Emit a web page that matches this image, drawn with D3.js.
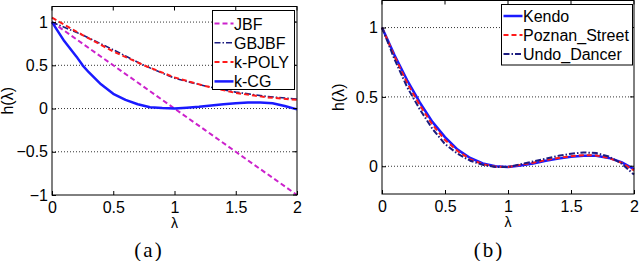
<!DOCTYPE html>
<html><head><meta charset="utf-8">
<script src="https://cdn.jsdelivr.net/npm/d3@7"></script>
<style>body{margin:0;background:#fff}svg{display:block}</style>
</head><body>
<script>
// ---- data ----
const xTicks = [0, 0.5, 1, 1.5, 2];
const yTicksA = [-1, -0.5, 0, 0.5, 1];
const yTicksB = [0, 0.5, 1];
const lamA = [0, 0.25, 0.5, 0.75, 1, 1.25, 1.5, 1.75, 2];
const jbf = [1, 0.75, 0.5, 0.25, 0, -0.25, -0.5, -0.75, -1];
const gbjbf = [1.0, 0.85, 0.68, 0.5, 0.35, 0.26, 0.19, 0.14, 0.11];
const kpoly = [1.05, 0.85, 0.66, 0.5, 0.36, 0.26, 0.18, 0.13, 0.1];
const lamC = [0, 0.1, 0.2, 0.25, 0.3, 0.4, 0.5, 0.6, 0.7, 0.8, 0.9, 1, 1.1, 1.2, 1.3, 1.4, 1.5, 1.6, 1.7, 1.8, 1.9, 2];
const kcg = [1, 0.78, 0.6, 0.5, 0.42, 0.28, 0.17, 0.1, 0.05, 0.015, 0.005, 0, 0.01, 0.02, 0.035, 0.05, 0.06, 0.07, 0.07, 0.06, 0.03, -0.01];
const lamB = [0, 0.1, 0.2, 0.3, 0.4, 0.5, 0.6, 0.7, 0.8, 0.9, 1, 1.1, 1.2, 1.3, 1.4, 1.5, 1.6, 1.7, 1.8, 1.9, 2];
const kendo = [1, 0.8, 0.62, 0.46, 0.32, 0.21, 0.12, 0.06, 0.02, 0.0, -0.005, 0.005, 0.02, 0.04, 0.055, 0.068, 0.075, 0.075, 0.06, 0.03, -0.02];
const poznan = [1, 0.79, 0.6, 0.44, 0.3, 0.19, 0.11, 0.05, 0.015, -0.003, -0.005, 0.01, 0.025, 0.045, 0.06, 0.072, 0.08, 0.078, 0.06, 0.025, -0.03];
const undo = [1, 0.77, 0.57, 0.41, 0.27, 0.16, 0.09, 0.04, 0.01, -0.005, -0.005, 0.015, 0.035, 0.055, 0.075, 0.09, 0.1, 0.095, 0.07, 0.02, -0.06];
const legendA = ["JBF", "GBJBF", "k-POLY", "k-CG"];
const legendB = ["Kendo", "Poznan_Street", "Undo_Dancer"];

const W = 640, H = 261;
const svg = d3.select("body").append("svg").attr("width", W).attr("height", H);
const FONT = "'Liberation Sans', Arial, Helvetica, sans-serif";

const styles = {
  jbf: {c: "#cc22cc", w: 2, d: "5,3"},
  gbjbf: {c: "#1c1c80", w: 1.6, d: "6,2,1.5,2"},
  kpoly: {c: "#ff1a1a", w: 2, d: "5,3"},
  kcg: {c: "#1a1aff", w: 2.5, d: null},
  kendo: {c: "#1a1aff", w: 2.5, d: null},
  poznan: {c: "#ff1a1a", w: 2, d: "5,3"},
  undo: {c: "#1c1c80", w: 2, d: "6,2,1.5,2"}
};

function panel(o) {
  const g = svg.append("g");
  const x = d3.scaleLinear().domain([0, 2]).range([o.l, o.r]);
  const y = d3.scaleLinear().domain(o.yd).range([o.b, o.t]);
  // grid
  g.selectAll(".grid").data(o.yt.filter(v => v !== o.yd[0])).enter().append("line")
    .attr("x1", o.l).attr("x2", o.r).attr("y1", d => y(d)).attr("y2", d => y(d))
    .attr("stroke", "#000").attr("stroke-width", 0.8).attr("stroke-dasharray", "1,2");
  // series
  const line = d3.line().x(d => x(d[0])).y(d => y(d[1]));
  o.series.forEach(s => {
    const st = styles[s.k];
    g.append("path").attr("d", line(s.xs.map((v, i) => [v, s.ys[i]])))
      .attr("fill", "none").attr("stroke", st.c).attr("stroke-width", st.w)
      .attr("stroke-dasharray", st.d).attr("stroke-linejoin", "round");
  });
  // axes
  const ax = g.append("g").attr("transform", `translate(0,${o.b})`)
    .call(d3.axisBottom(x).tickValues(xTicks).tickSize(-4).tickPadding(7).tickFormat(d3.format("")));
  const ay = g.append("g").attr("transform", `translate(${o.l},0)`)
    .call(d3.axisLeft(y).tickValues(o.yt).tickSize(-4).tickPadding(4).tickFormat(d => d < 0 ? "\u2212" + Math.abs(d) : d));
  [ax, ay].forEach(a => {
    a.select(".domain").remove();
    a.selectAll("text").attr("font-family", FONT).attr("font-size", 16).attr("fill", "#000");
    a.selectAll("line").attr("stroke", "#000");
  });
  // top/right ticks
  g.selectAll(".tt").data(xTicks).enter().append("line")
    .attr("x1", d => x(d)).attr("x2", d => x(d)).attr("y1", o.t).attr("y2", o.t + 4).attr("stroke", "#000");
  g.selectAll(".rt").data(o.yt).enter().append("line")
    .attr("x1", o.r).attr("x2", o.r - 4).attr("y1", d => y(d)).attr("y2", d => y(d)).attr("stroke", "#000");
  // box
  g.append("rect").attr("x", o.l).attr("y", o.t).attr("width", o.r - o.l).attr("height", o.b - o.t)
    .attr("fill", "none").attr("stroke", "#000").attr("stroke-width", 1);
  // labels
  g.append("text").attr("x", (o.l + o.r) / 2).attr("y", o.b + 33).attr("text-anchor", "middle")
    .attr("font-family", FONT).attr("font-size", 14).text("\u03bb");
  g.append("text").attr("transform", `translate(${o.yl},${(o.t + o.b) / 2}) rotate(-90)`)
    .attr("text-anchor", "middle").attr("font-family", FONT).attr("font-size", 16).text("h(\u03bb)");
  g.append("text").attr("x", o.capx).attr("y", 257).attr("text-anchor", "middle")
    .attr("font-family", "'Liberation Serif', 'Times New Roman', serif").attr("font-size", 21)
    .attr("letter-spacing", 2).text(o.cap);
  // legend
  const lg = o.leg;
  g.append("rect").attr("x", lg.x).attr("y", lg.y).attr("width", lg.w).attr("height", lg.h)
    .attr("fill", "#fff").attr("stroke", "#000").attr("stroke-width", 1);
  lg.items.forEach((name, i) => {
    const st = styles[lg.keys[i]];
    const yy = lg.y + lg.y0 + i * lg.dy;
    g.append("line").attr("x1", lg.x + 2).attr("x2", lg.x + 21).attr("y1", yy).attr("y2", yy)
      .attr("stroke", st.c).attr("stroke-width", st.w).attr("stroke-dasharray", st.d);
    g.append("text").attr("x", lg.x + 21.5).attr("y", yy + 6).attr("font-family", FONT)
      .attr("font-size", 16).text(name);
  });
}

panel({
  l: 52, r: 297, t: 6.5, b: 195, yd: [-1, 1.18], yt: yTicksA, yl: 13, capx: 149, cap: "(a)",
  series: [
    {k: "jbf", xs: lamA, ys: jbf},
    {k: "gbjbf", xs: lamA, ys: gbjbf},
    {k: "kpoly", xs: lamA, ys: kpoly},
    {k: "kcg", xs: lamC, ys: kcg}
  ],
  leg: {x: 212.5, y: 10.5, w: 82, h: 79, y0: 13, dy: 19.3, items: legendA, keys: ["jbf", "gbjbf", "kpoly", "kcg"]}
});
panel({
  l: 382, r: 634, t: 0.5, b: 194, yd: [-0.2, 1.195], yt: yTicksB, yl: 344, capx: 489, cap: "(b)",
  series: [
    {k: "kendo", xs: lamB, ys: kendo},
    {k: "poznan", xs: lamB, ys: poznan},
    {k: "undo", xs: lamB, ys: undo}
  ],
  leg: {x: 501.5, y: 4.5, w: 131, h: 60.5, y0: 11.5, dy: 19, items: legendB, keys: ["kendo", "poznan", "undo"]}
});
</script>
</body></html>
